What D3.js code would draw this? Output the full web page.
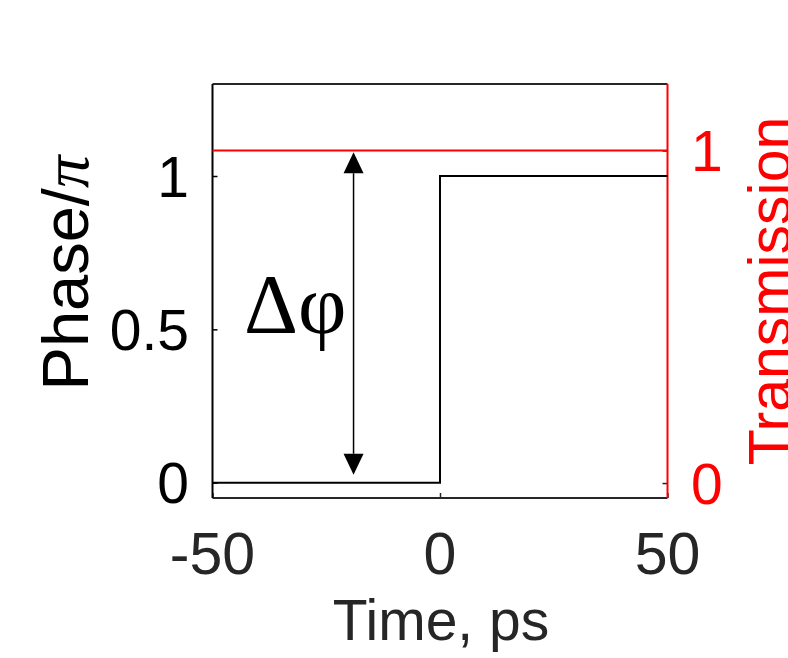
<!DOCTYPE html>
<html>
<head>
<meta charset="utf-8">
<script src="https://cdn.jsdelivr.net/npm/d3@7"></script>
<style>
  html, body { margin: 0; padding: 0; background: #fff; }
  svg { display: block; }
</style>
</head>
<body>
<svg id="chart" width="788" height="658"></svg>
<script>
// ---- data ----
const timeTicks = [-50, 0, 50];
const phaseTicks = [0, 0.5, 1];
const transTicks = [0, 1];
const phaseTime = [-50, 0, 0, 50];
const phaseValues = [0, 0, 1, 1];
const transTime = [-50, 50];
const transValues = [1, 1];
const arrowTime = -19;
const arrowTopTrans = 0.995;   // top tip (transmission units)
const arrowBottomPhase = 0.026; // bottom tip (phase units)
const deltaLabel = "Δφ";

// ---- layout ----
const SANS = "'Liberation Sans', Arial, Helvetica, sans-serif";
const SERIF = "'Liberation Serif', 'Times New Roman', serif";
const svg = d3.select("#chart");
const L = 212.5, R = 667.5, T = 84, B = 498;

const x = d3.scaleLinear().domain([-50, 50]).range([L, R]);
const yL = d3.scaleLinear().domain([-0.05, 1.3]).range([B, T]);
const yR = d3.scaleLinear().domain([-0.045, 1.2]).range([B, T]);

const fs = 57;

// axes (ticks inward, labels drawn separately)
const gx = svg.append("g").attr("transform", `translate(0,${B})`)
  .call(d3.axisBottom(x).tickValues(timeTicks).tickSize(-5).tickFormat(""));
gx.selectAll("line").attr("stroke", "#262626").attr("stroke-width", 1.5);
gx.select(".domain").remove();

const gl = svg.append("g").attr("transform", `translate(${L},0)`)
  .call(d3.axisLeft(yL).tickValues(phaseTicks).tickSize(-5).tickFormat(""));
gl.selectAll("line").attr("stroke", "#000").attr("stroke-width", 1.5);
gl.select(".domain").remove();

const gr = svg.append("g").attr("transform", `translate(${R},0)`)
  .call(d3.axisRight(yR).tickValues(transTicks).tickSize(-5).tickFormat(""));
gr.selectAll("line").attr("stroke", "#222").attr("stroke-width", 1.5);
gr.select(".domain").remove();

// box
svg.append("line").attr("x1", L).attr("x2", R).attr("y1", T).attr("y2", T)
  .attr("stroke", "#262626").attr("stroke-width", 2);
svg.append("line").attr("x1", L).attr("x2", R).attr("y1", B).attr("y2", B)
  .attr("stroke", "#262626").attr("stroke-width", 2);
svg.append("line").attr("x1", L).attr("x2", L).attr("y1", T).attr("y2", B)
  .attr("stroke", "#000").attr("stroke-width", 2);
svg.append("line").attr("x1", R).attr("x2", R).attr("y1", T).attr("y2", B)
  .attr("stroke", "#ff0000").attr("stroke-width", 2);

// tick labels
svg.append("g").selectAll("text").data(timeTicks).join("text")
  .attr("x", d => x(d)).attr("y", 574).attr("text-anchor", "middle")
  .style("font-family", SANS).attr("font-size", 59).attr("fill", "#262626").text(d => d);
svg.append("g").selectAll("text").data(phaseTicks).join("text")
  .attr("x", 189).attr("y", d => yL(d)).attr("dy", "0.36em").attr("text-anchor", "end")
  .style("font-family", SANS).attr("font-size", fs).attr("fill", "#000").text(d => d);
svg.append("g").selectAll("text").data(transTicks).join("text")
  .attr("x", 691).attr("y", d => yR(d)).attr("dy", "0.36em").attr("text-anchor", "start")
  .style("font-family", SANS).attr("font-size", fs).attr("fill", "#ff0000").text(d => d);

// axis titles
svg.append("text").attr("x", 441).attr("y", 640).attr("text-anchor", "middle")
  .style("font-family", SANS).attr("font-size", 57).attr("fill", "#262626").text("Time, ps");
const pt = svg.append("text").attr("transform", "translate(88,273) rotate(-90)")
  .attr("text-anchor", "middle").style("font-family", SANS)
  .attr("font-size", 65).attr("fill", "#000");
pt.append("tspan").text("Phase/");
pt.append("tspan").style("font-family", SERIF)
  .attr("font-style", "italic").text("π");
svg.append("text").attr("transform", "translate(790,291) rotate(-90)")
  .attr("text-anchor", "middle").style("font-family", SANS)
  .attr("font-size", 59).attr("fill", "#ff0000").text("Transmission");

// lines
const linePhase = d3.line().x(d => x(d[0])).y(d => yL(d[1]));
svg.append("path").datum(d3.zip(phaseTime, phaseValues))
  .attr("d", linePhase).attr("fill", "none").attr("stroke", "#000").attr("stroke-width", 2);
const lineTrans = d3.line().x(d => x(d[0])).y(d => yR(d[1]));
svg.append("path").datum(d3.zip(transTime, transValues))
  .attr("d", lineTrans).attr("fill", "none").attr("stroke", "#ff0000").attr("stroke-width", 2);

// arrow
const ax = x(arrowTime), ay1 = yR(arrowTopTrans), ay2 = yL(arrowBottomPhase);
const hl = 21, hw = 10;
svg.append("line").attr("x1", ax).attr("x2", ax).attr("y1", ay1 + hl).attr("y2", ay2 - hl)
  .attr("stroke", "#000").attr("stroke-width", 1.5);
svg.append("path").attr("d", `M${ax},${ay1} L${ax - hw},${ay1 + hl} L${ax + hw},${ay1 + hl} Z`).attr("fill", "#000");
svg.append("path").attr("d", `M${ax},${ay2} L${ax - hw},${ay2 - hl} L${ax + hw},${ay2 - hl} Z`).attr("fill", "#000");

// delta phi
svg.append("text").attr("x", 244).attr("y", 333)
  .style("font-family", SERIF)
  .attr("font-size", 84).attr("fill", "#000").text(deltaLabel);
</script>
</body>
</html>
